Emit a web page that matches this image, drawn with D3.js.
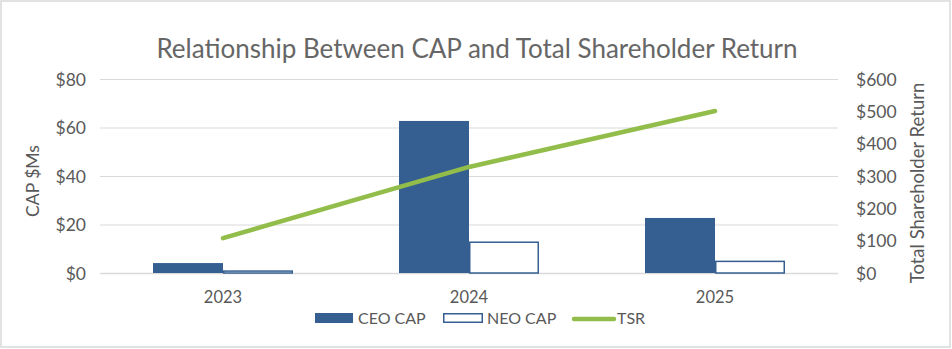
<!DOCTYPE html>
<html>
<head>
<meta charset="utf-8">
<script src="https://cdn.jsdelivr.net/npm/d3@7"></script>
<style>
  body { margin: 0; background: #fff; }
  svg text { font-family: Lato, "Open Sans", sans-serif; fill: #595959; }
</style>
</head>
<body>
<svg id="chart" width="952" height="349"></svg>
<script>
// chart data
var years = ["2023", "2024", "2025"];
var ceoCap = [4.1, 62.7, 22.7];
var neoCap = [1.1, 13.0, 5.1];
var tsr = [108, 328, 501];
var leftTicks = [0, 20, 40, 60, 80];
var rightTicks = [0, 100, 200, 300, 400, 500, 600];

var svg = d3.select("#chart");
var W = 952, H = 349;
var plot = { left: 100, right: 838, top: 79, bottom: 273 };

var barColor = "#355f91";
var lineColor = "#92bd4a";
var gridColor = "#d9d9d9";

// outer border
svg.append("rect")
    .attr("x", 1).attr("y", 1)
    .attr("width", W - 3).attr("height", H - 3)
    .attr("fill", "#fff")
    .attr("stroke", gridColor)
    .attr("stroke-width", 1.5);

var x = d3.scaleBand().domain(years).range([plot.left, plot.right]);
var yL = d3.scaleLinear().domain([0, 80]).range([plot.bottom, plot.top]);
var yR = d3.scaleLinear().domain([0, 600]).range([plot.bottom, plot.top]);

// gridlines
svg.append("g").selectAll("line")
    .data(leftTicks)
    .enter().append("line")
    .attr("x1", plot.left).attr("x2", plot.right)
    .attr("y1", function(d){ return yL(d) + 0.5 })
    .attr("y2", function(d){ return yL(d) + 0.5 })
    .attr("stroke", gridColor)
    .attr("stroke-width", function(d){ return d == 0 ? 1.5 : 1 });

// left axis
var leftAxis = svg.append("g")
    .attr("transform", "translate(86,0)")
    .call(d3.axisLeft(yL).tickValues(leftTicks).tickSize(0).tickPadding(0)
        .tickFormat(function(d){ return "$" + d }));
leftAxis.select(".domain").remove();
leftAxis.selectAll("text").style("font-size", "17.5px").attr("dy", "0.35em");

// right axis
var rightAxis = svg.append("g")
    .attr("transform", "translate(856,0)")
    .call(d3.axisRight(yR).tickValues(rightTicks).tickSize(0).tickPadding(0)
        .tickFormat(function(d){ return "$" + d }));
rightAxis.select(".domain").remove();
rightAxis.selectAll("text").style("font-size", "17.5px").attr("dy", "0.35em");

// bars
var barW = 70;
svg.append("g").selectAll("rect")
    .data(ceoCap)
    .enter().append("rect")
    .attr("x", function(d, i){ return x(years[i]) + x.bandwidth()/2 - barW })
    .attr("y", function(d){ return yL(d) })
    .attr("width", barW)
    .attr("height", function(d){ return yL(0) - yL(d) })
    .attr("fill", barColor);

svg.append("g").selectAll("rect")
    .data(neoCap)
    .enter().append("rect")
    .attr("x", function(d, i){ return x(years[i]) + x.bandwidth()/2 + 0.75 })
    .attr("y", function(d){ return yL(d) + 0.75 })
    .attr("width", barW - 1.5)
    .attr("height", function(d){ return yL(0) - yL(d) - 0.75 })
    .attr("fill", "#fff")
    .attr("stroke", barColor)
    .attr("stroke-width", 1.5);

// TSR line
var line = d3.line()
    .x(function(d, i){ return x(years[i]) + x.bandwidth()/2 })
    .y(function(d){ return yR(d) });
svg.append("path")
    .datum(tsr)
    .attr("d", line)
    .attr("fill", "none")
    .attr("stroke", lineColor)
    .attr("stroke-width", 4.5)
    .attr("stroke-linecap", "round");

// category labels
svg.append("g").selectAll("text")
    .data(years)
    .enter().append("text")
    .attr("x", function(d){ return x(d) + x.bandwidth()/2 })
    .attr("y", 303)
    .attr("text-anchor", "middle")
    .style("font-size", "16.5px")
    .text(function(d){ return d });

// title
svg.append("text")
    .attr("x", 477).attr("y", 58)
    .attr("text-anchor", "middle")
    .style("font-size", "26px")
    .style("fill", "#666")
    .text("Relationship Between CAP and Total Shareholder Return");

// axis titles
svg.append("text")
    .attr("transform", "translate(39,181) rotate(-90)")
    .attr("text-anchor", "middle")
    .style("font-size", "17.5px")
    .text("CAP $Ms");

svg.append("text")
    .attr("transform", "translate(924,183) rotate(-90)")
    .attr("text-anchor", "middle")
    .style("font-size", "18.5px")
    .text("Total Shareholder Return");

// legend
var legend = svg.append("g");
legend.append("rect")
    .attr("x", 315).attr("y", 313).attr("width", 38).attr("height", 10)
    .attr("fill", barColor);
legend.append("text").attr("x", 358).attr("y", 324)
    .style("font-size", "16px").text("CEO CAP");
legend.append("rect")
    .attr("x", 443.75).attr("y", 313.75).attr("width", 38.5).attr("height", 8.5)
    .attr("fill", "#fff").attr("stroke", barColor).attr("stroke-width", 1.5);
legend.append("text").attr("x", 487).attr("y", 324)
    .style("font-size", "16px").text("NEO CAP");
legend.append("line")
    .attr("x1", 574).attr("x2", 614).attr("y1", 319).attr("y2", 319)
    .attr("stroke", lineColor).attr("stroke-width", 4.5)
    .attr("stroke-linecap", "round");
legend.append("text").attr("x", 617).attr("y", 324)
    .style("font-size", "16px").text("TSR");
</script>
</body>
</html>
